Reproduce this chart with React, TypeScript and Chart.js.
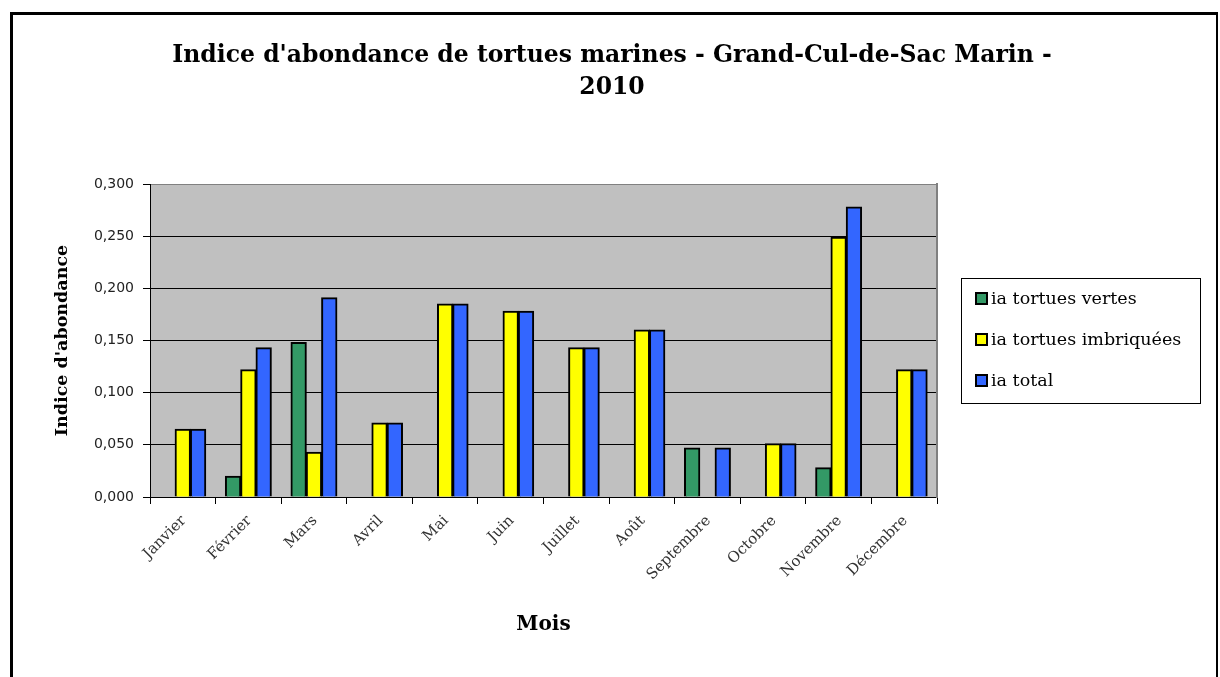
import React, { useEffect, useRef } from "react";
import { Chart, registerables } from "chart.js";

Chart.register(...registerables);

const months = ["Janvier", "Février", "Mars", "Avril", "Mai", "Juin", "Juillet", "Août", "Septembre", "Octobre", "Novembre", "Décembre"];
const iaVertes = [0, 0.02, 0.148, 0, 0, 0, 0, 0, 0.047, 0, 0.028, 0];
const iaImbriquees = [0.065, 0.122, 0.043, 0.071, 0.185, 0.178, 0.143, 0.16, 0, 0.051, 0.249, 0.122];
const iaTotal = [0.065, 0.143, 0.191, 0.071, 0.185, 0.178, 0.143, 0.16, 0.047, 0.051, 0.278, 0.122];
const seriesLabels = ["ia tortues vertes", "ia tortues imbriquées", "ia total"];
const seriesColors = ["#339966", "#FFFF00", "#3366FF"];
const titleLines = ["Indice d'abondance de tortues marines - Grand-Cul-de-Sac Marin -", "2010"];
const yTitle = "Indice d'abondance";
const xTitle = "Mois";
const yMin = 0;
const yMax = 0.3;
const yStep = 0.05;

const W = 1220;
const H = 677;

const backgroundPlugin = {
  id: "excelBackground",
  beforeDraw(chart: any) {
    const { ctx, chartArea } = chart;
    ctx.save();
    ctx.fillStyle = "#FFFFFF";
    ctx.fillRect(0, 0, W, H);
    ctx.fillStyle = "#C0C0C0";
    ctx.fillRect(chartArea.left, chartArea.top, chartArea.right - chartArea.left, chartArea.bottom - chartArea.top);
    // outer frame
    ctx.fillStyle = "#000000";
    ctx.fillRect(10, 12, 3, H - 12);
    ctx.fillRect(10, 12, 1208, 3);
    ctx.fillRect(1216, 12, 2, H - 12);
    ctx.restore();
  },
};

const legendPlugin = {
  id: "excelLegend",
  afterDraw(chart: any) {
    const { ctx } = chart;
    const box = { x: 961, y: 278, w: 239, h: 125 };
    ctx.save();
    ctx.strokeStyle = "#000000";
    ctx.lineWidth = 1;
    ctx.strokeRect(box.x + 0.5, box.y + 0.5, box.w, box.h);
    ctx.font = "17.5px 'DejaVu Serif'";
    ctx.textBaseline = "middle";
    ctx.textAlign = "left";
    chart.data.datasets.forEach((ds: any, i: number) => {
      const cy = box.y + 21 + i * 41;
      ctx.fillStyle = ds.backgroundColor;
      ctx.fillRect(976, cy - 6, 11, 11);
      ctx.lineWidth = 2;
      ctx.strokeStyle = "#000000";
      ctx.strokeRect(976, cy - 6, 11, 11);
      ctx.fillStyle = "#000000";
      ctx.fillText(ds.label, 991, cy);
    });
    ctx.restore();
  },
};

export default function App() {
  const canvasRef = useRef<HTMLCanvasElement | null>(null);

  useEffect(() => {
    const canvas = canvasRef.current;
    if (!canvas) return;
    const values = [iaVertes, iaImbriquees, iaTotal];
    const chart = new Chart(canvas, {
      type: "bar",
      data: {
        labels: months,
        datasets: values.map((v, i) => ({
          label: seriesLabels[i],
          data: v,
          backgroundColor: seriesColors[i],
          borderColor: "#000000",
          borderWidth: (c: any) => (c.raw ? 2 : 0),
          borderSkipped: "bottom",
          inflateAmount: (c: any) => (c.raw ? 0.5 : 0),
          categoryPercentage: 0.7,
          barPercentage: 1,
        })),
      },
      options: {
        animation: false,
        responsive: false,
        maintainAspectRatio: false,
        devicePixelRatio: 1,
        layout: { padding: { left: 16, right: 12, top: 0, bottom: 0 } },
        plugins: {
          legend: { display: false },
          tooltip: { enabled: false },
          title: {
            display: true,
            text: titleLines,
            color: "#000000",
            font: { family: "'DejaVu Serif'", size: 23.5, weight: "bold", lineHeight: 32 / 23.5 },
            padding: { top: 40, bottom: 80 },
          },
        },
        scales: {
          x: {
            offset: true,
            grid: {
              offset: true,
              drawOnChartArea: false,
              drawTicks: true,
              tickLength: 7,
              color: "#000000",
              tickColor: "#000000",
            },
            border: { display: true, color: "#000000", width: 1 },
            ticks: {
              autoSkip: false,
              minRotation: 45,
              maxRotation: 45,
              color: "#333333",
              font: { family: "'DejaVu Serif'", size: 15 },
              padding: 8,
              labelOffset: 1,
            },
            title: {
              display: true,
              text: xTitle,
              color: "#000000",
              font: { family: "'DejaVu Serif'", size: 20, weight: "bold" },
              padding: { top: 0, bottom: 40 },
            },
            afterFit: (s: any) => {
              s.height = 180;
            },
          },
          y: {
            min: yMin,
            max: yMax,
            grid: {
              color: (c: any) => (c.tick && c.tick.value >= yMax - 1e-9 ? "#808080" : "#000000"),
              tickColor: "#000000",
              tickLength: 7,
              lineWidth: 1,
            },
            border: { display: true, color: "#000000", width: 1 },
            ticks: {
              stepSize: yStep,
              color: "#222222",
              padding: 9,
              font: { family: "'DejaVu Sans'", size: 14 },
              callback: (v: any) => Number(v).toFixed(3).replace(".", ","),
            },
            title: {
              display: true,
              text: yTitle,
              color: "#000000",
              font: { family: "'DejaVu Serif'", size: 17.5, weight: "bold" },
              padding: { top: 36, bottom: 0 },
            },
            afterFit: (s: any) => {
              s.width = 134;
            },
          },
          y2: {
            type: "linear",
            position: "right",
            display: true,
            grid: { display: false, drawTicks: false },
            ticks: { display: false },
            border: { display: true, color: "#808080", width: 2 },
            afterFit: (s: any) => {
              s.width = 271;
            },
          },
        },
      } as any,
      plugins: [backgroundPlugin, legendPlugin],
    });
    return () => chart.destroy();
  }, []);

  return (
    <div style={{ position: "fixed", left: 0, top: 0, width: W, height: H, background: "#FFFFFF" }}>
      <canvas ref={canvasRef} width={W} height={H} style={{ width: W, height: H, display: "block" }} />
    </div>
  );
}
